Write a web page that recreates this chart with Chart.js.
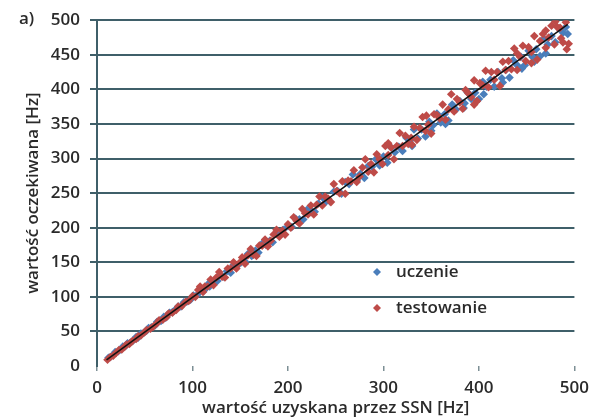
<!DOCTYPE html>
<html>
<head>
<meta charset="utf-8">
<script src="https://cdn.jsdelivr.net/npm/chart.js@4.4.1/dist/chart.umd.min.js"></script>
<style>
  html, body { margin: 0; padding: 0; background: #fff; }
  #wrap { position: relative; width: 596px; height: 418px; }
</style>
</head>
<body>
<div id="wrap"><canvas id="chart" width="596" height="418"></canvas></div>
<script>
// learning set (uczenie)
const trainPoints = [
    [12,12],[14,13],[17,16],[19,20],[22,21],[25,24],[27,28],[30,29],[32,33],[35,34],
    [38,37],[41,42],[43,41],[46,47],[49,48],[52,51],[54,55],[57,56],[61,59],[63,64],
    [67,65],[70,71],[72,70],[76,77],[79,78],[81,80],[85,86],[88,86],[91,92],[94,93],
    [98,96],[101,102],[105,103],[108,110],[112,109],[116,118],[118,115],[122,122],[126,123],[129,132],
    [132,129],[136,137],[140,135],[143,146],[147,145],[151,150],[155,151],[158,162],[162,159],[166,167],
    [169,164],[173,177],[177,175],[181,181],[184,179],[188,191],[192,190],[195,197],
    [200,202],[204,201],[208,213],[212,212],[216,212],[220,226],[224,225],[228,223],[232,235],[236,244],
    [240,238],[244,238],[248,252],[252,253],[256,249],[260,266],[264,263],[268,277],[272,268],[276,278],
    [280,272],[284,289],[288,288],[292,299],[296,290],[300,303],[304,294],[308,316],[312,309],[316,317],
    [320,311],[324,330],[328,326],[332,342],[336,329],[340,342],[344,332],[348,353],[352,348],[356,365],
    [360,352],[364,364],[368,355],[372,378],[376,371],[380,383],[384,373],[388,396],[392,386],[396,395],
    [400,386],[404,411],[408,404],[412,414],[416,404],[420,425],[424,416],[428,428],[432,417],[436,442],
    [440,435],[444,447],[448,435],[452,456],[456,447],[460,458],[464,448],[468,473],[472,465],[476,477],
    [480,468],[484,488],[488,482],[491,490],[493,480],
    [470,452],[458,440],[445,430],[425,410],[405,393],[385,380],[365,350],[350,340],[330,318]
];

// test set (testowanie)
const testPoints = [
    [11,9],[14,13],[17,15],[20,19],[23,23],[26,24],[29,28],[31,31],[34,32],[37,36],
    [41,39],[43,43],[46,44],[50,49],[52,52],[56,54],[59,57],[63,62],[65,66],[69,67],
    [73,71],[75,76],[79,77],[83,81],[85,86],[89,87],[93,93],[96,94],
    [100,101],[103,100],[106,110],[108,115],[111,107],[113,115],[116,115],[119,125],[122,117],[125,128],
    [128,136],[131,129],[134,128],[137,141],[140,141],[143,150],[146,141],[149,149],[152,157],[155,148],
    [158,160],[161,169],[164,161],[167,159],[170,174],[173,174],[176,183],[179,173],[182,181],[185,190],
    [188,197],[191,187],[194,196],[197,190],
    [200,205],[203,200],[206,215],[209,210],[212,206],[215,227],[218,221],[221,219],[224,232],[227,219],
    [230,233],[233,245],[236,232],[239,245],[242,242],[245,237],[248,263],[251,253],[254,250],[257,267],
    [260,249],[263,268],[266,267],[269,283],[272,266],[275,274],[278,287],[281,299],[284,281],[287,292],
    [290,280],[293,306],[296,299],[299,292],[302,318],[305,305],[308,316],[311,299],[314,318],[317,337],
    [320,318],[323,333],[326,321],[329,330],[332,346],[335,327],[338,344],[341,360],[344,340],[347,349],
    [350,336],[353,364],[356,363],[359,358],[362,378],[365,356],[368,371],[371,393],[374,368],[377,386],
    [380,381],[383,372],[386,399],[389,394],[392,389],[395,413],[398,383],[401,409],[404,406],[407,427],
    [410,403],[413,425],[416,414],[419,425],[422,405],[425,440],[428,428],[431,441],[434,429],[437,459],
    [440,428],[443,447],[446,463],[449,441],[452,461],[455,454],[458,477],[461,443],[464,470],[467,480],
    [470,460],[473,475],[476,492],[479,465],[482,490],[485,489],[488,468],[491,497],[494,466],
    [492,458],[486,474],[480,498],[470,485],[455,438],[440,452],[395,378],[345,362],[330,320],[305,322]
];

// trend line end points
const trendLine = [[10, 9], [493, 494]];

const xTicks = [0, 100, 200, 300, 400, 500];
const yTicks = [0, 50, 100, 150, 200, 250, 300, 350, 400, 450, 500];

const seriesLabels = ['uczenie', 'testowanie'];
const panelLabel = 'a)';
const xTitle = 'wartość uzyskana przez SSN [Hz]';
const yTitle = 'wartość oczekiwana [Hz]';

const BLUE = '#4a7ebb';
const RED = '#be4b48';
const GRID = '#3f5f69';
const TEXT = '#2a2a2a';

Chart.defaults.font.family = '"Open Sans", sans-serif';
Chart.defaults.font.size = 17;
Chart.defaults.font.weight = '600';
Chart.defaults.color = TEXT;

const toXY = arr => arr.map(p => ({ x: p[0], y: p[1] }));

// legend inside plot + panel label
const extras = {
    id: 'extras',
    afterDraw(chart) {
        const { ctx } = chart;
        ctx.save();
        ctx.font = '600 17px "Open Sans", sans-serif';
        ctx.fillStyle = TEXT;
        ctx.textBaseline = 'middle';
        ctx.textAlign = 'left';
        ctx.fillText(panelLabel, 19, 19);

        const colors = [BLUE, RED];
        seriesLabels.forEach((label, i) => {
            const y = 272 + i * 36;
            ctx.fillStyle = colors[i];
            ctx.beginPath();
            ctx.moveTo(377, y - 4);
            ctx.lineTo(381, y);
            ctx.lineTo(377, y + 4);
            ctx.lineTo(373, y);
            ctx.closePath();
            ctx.fill();
            ctx.fillStyle = TEXT;
            ctx.fillText(label, 396, y);
        });
        ctx.restore();
    }
};

new Chart(document.getElementById('chart'), {
    type: 'scatter',
    data: {
        datasets: [
            {
                type: 'line',
                label: 'trend',
                data: toXY(trendLine),
                borderColor: '#111',
                borderWidth: 1.6,
                pointRadius: 0,
                fill: false,
                order: 0
            },
            {
                label: seriesLabels[1],
                data: toXY(testPoints),
                pointStyle: 'rectRot',
                pointRadius: 4.3,
                backgroundColor: RED,
                borderColor: RED,
                borderWidth: 0,
                order: 1
            },
            {
                label: seriesLabels[0],
                data: toXY(trainPoints),
                pointStyle: 'rectRot',
                pointRadius: 4.3,
                backgroundColor: BLUE,
                borderColor: BLUE,
                borderWidth: 0,
                order: 2
            }
        ]
    },
    options: {
        responsive: false,
        animation: false,
        layout: { padding: { left: 0, right: 14, top: 16, bottom: 0 } },
        plugins: {
            legend: { display: false },
            tooltip: { enabled: false }
        },
        scales: {
            x: {
                type: 'linear',
                min: 0,
                max: 500,
                afterBuildTicks: axis => { axis.ticks = xTicks.map(v => ({ value: v })); },
                afterFit: axis => { axis.height = 52; },
                border: { display: false },
                grid: {
                    drawOnChartArea: false,
                    drawTicks: true,
                    tickLength: 5,
                    color: '#7d8f95',
                    lineWidth: 1.5
                },
                ticks: { padding: 7, color: TEXT },
                title: {
                    display: true,
                    text: xTitle,
                    color: TEXT,
                    font: { size: 17, weight: '600' },
                    padding: { top: 0, bottom: 0 }
                }
            },
            y: {
                type: 'linear',
                min: 0,
                max: 500,
                afterBuildTicks: axis => { axis.ticks = yTicks.map(v => ({ value: v })); },
                afterFit: axis => { axis.width = 97; },
                border: { display: true, color: GRID, width: 2 },
                grid: {
                    color: c => (c.tick && c.tick.value === 0 ? 'rgba(0,0,0,0)' : GRID),
                    lineWidth: 2,
                    drawTicks: true,
                    tickLength: 7
                },
                ticks: { padding: 10, color: TEXT },
                title: {
                    display: true,
                    text: yTitle,
                    color: TEXT,
                    font: { size: 17, weight: '600' },
                    padding: { top: 23, bottom: 0 }
                }
            }
        }
    },
    plugins: [extras]
});
</script>
</body>
</html>
